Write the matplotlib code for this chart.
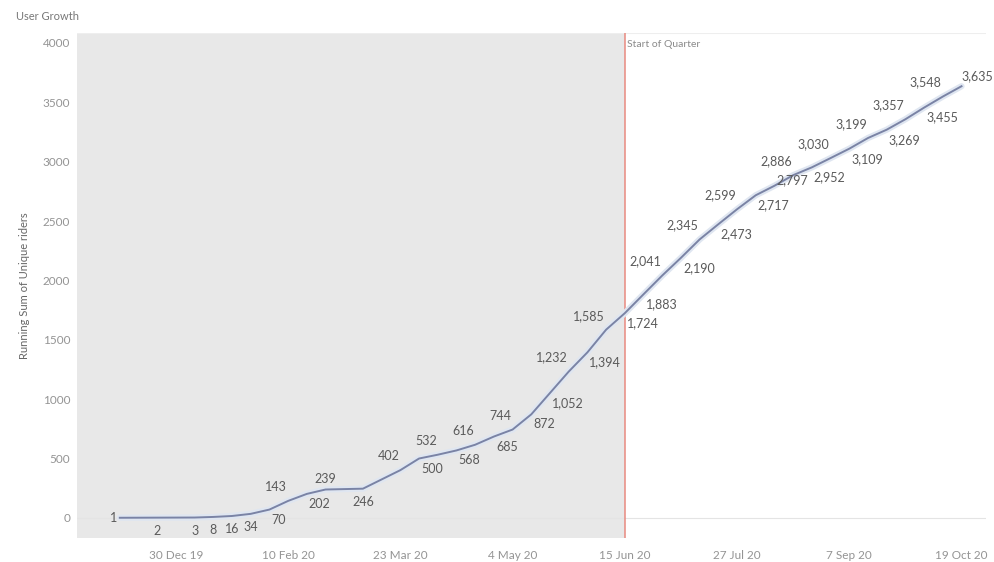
import pandas as pd
import matplotlib
matplotlib.use("Agg")
import matplotlib.pyplot as plt

# weekly running sum of unique riders (missing weeks = no new riders)
weeks = ["2019-12-09", "2019-12-23", "2020-01-06", "2020-01-13", "2020-01-20",
         "2020-01-27", "2020-02-03", "2020-02-10", "2020-02-17", "2020-02-24",
         "2020-03-09", "2020-03-23", "2020-03-30", "2020-04-06", "2020-04-13",
         "2020-04-20", "2020-04-27", "2020-05-04", "2020-05-11", "2020-05-18",
         "2020-05-25", "2020-06-01", "2020-06-08", "2020-06-15", "2020-06-22",
         "2020-06-29", "2020-07-06", "2020-07-13", "2020-07-20", "2020-07-27",
         "2020-08-03", "2020-08-10", "2020-08-17", "2020-08-24", "2020-08-31",
         "2020-09-07", "2020-09-14", "2020-09-21", "2020-09-28", "2020-10-05",
         "2020-10-12", "2020-10-19"]
riders = [1, 2, 3, 8, 16, 34, 70, 143, 202, 239, 246, 402, 500, 532, 568, 616,
          685, 744, 872, 1052, 1232, 1394, 1585, 1724, 1883, 2041, 2190, 2345,
          2473, 2599, 2717, 2797, 2886, 2952, 3030, 3109, 3199, 3269, 3357,
          3455, 3548, 3635]

# where each label sits relative to its point
label_pos = ["L", "B", "B", "B", "B", "B", "BR", "AL", "BR", "A", "B", "AL",
             "BR", "AL", "BR", "AL", "BR", "AL", "BR", "BR", "AL", "BR", "AL",
             "BR", "BR", "AL", "BR", "AL", "BR", "AL", "BR", "R", "AL", "BR",
             "AL", "BR", "AL", "BR", "AL", "BR", "AL", "AR"]

tick_dates = ["2019-12-30", "2020-02-10", "2020-03-23", "2020-05-04",
              "2020-06-15", "2020-07-27", "2020-09-07", "2020-10-19"]
tick_labels = ["30 Dec 19", "10 Feb 20", "23 Mar 20", "4 May 20",
               "15 Jun 20", "27 Jul 20", "7 Sep 20", "19 Oct 20"]
y_ticks = [0, 500, 1000, 1500, 2000, 2500, 3000, 3500, 4000]
quarter_start = "2020-06-15"

plt.rcParams["font.family"] = ["Lato", "DejaVu Sans"]

x = pd.to_datetime(weeks)
ticks = pd.to_datetime(tick_dates)
q = pd.Timestamp(quarter_start)

fig = plt.figure(figsize=(9.94, 5.62), dpi=100)
ax = fig.add_axes([0.0775, 0.043, 0.914, 0.898])

x0, x1 = pd.Timestamp("2019-11-23"), pd.Timestamp("2020-10-28")
ax.set_xlim(x0, x1)
ax.set_ylim(-168, 4082)

ax.axvspan(x0, q, color="#e8e8e8", lw=0, zorder=0)
ax.axhline(0, color="#e4e4e4", lw=0.8, zorder=1)
ax.axhline(4082, color="#eeeeee", lw=0.8, zorder=1)
ax.axvline(q, color="#e88a80", lw=1.1, zorder=2)
ax.text(q + pd.Timedelta(days=1), 3985, "Start of Quarter", fontsize=7.5,
        color="#8a8a8a", va="center", ha="left")

ax.plot(x, riders, color="#dfe6f1", lw=4.5, zorder=2, solid_capstyle="round")
ax.plot(x, riders, color="#7a83a5", lw=1.4, zorder=3)

# offsets in pixels -> points
offs = {"L": (-3, 0, "right"), "B": (0, -13, "center"), "A": (0, 11, "center"),
        "BR": (2, -10, "left"), "AL": (-1, 14, "right"), "R": (2, 6, "left"),
        "AR": (0, 10, "left")}
for xi, v, p in zip(x, riders, label_pos):
    dx, dy, ha = offs[p]
    ax.annotate(f"{v:,}", (xi, v), xytext=(dx * 0.72, dy * 0.72),
                textcoords="offset points", ha=ha, va="center",
                fontsize=9, color="#5a5a5a", zorder=4)

ax.set_xticks(ticks)
ax.set_xticklabels(tick_labels)
ax.set_yticks(y_ticks)
ax.set_yticklabels([str(t) for t in y_ticks])
ax.tick_params(length=0, labelsize=8.5, colors="#949494")
ax.tick_params(axis="x", pad=9)
ax.tick_params(axis="y", pad=5)
for s in ax.spines.values():
    s.set_visible(False)

ax.set_ylabel("Running Sum of Unique riders", fontsize=8, color="#666666",
              labelpad=9)
fig.text(0.016, 0.97, "User Growth", fontsize=8, color="#777777",
         ha="left", va="center")

fig.savefig("out.png", dpi=100)
